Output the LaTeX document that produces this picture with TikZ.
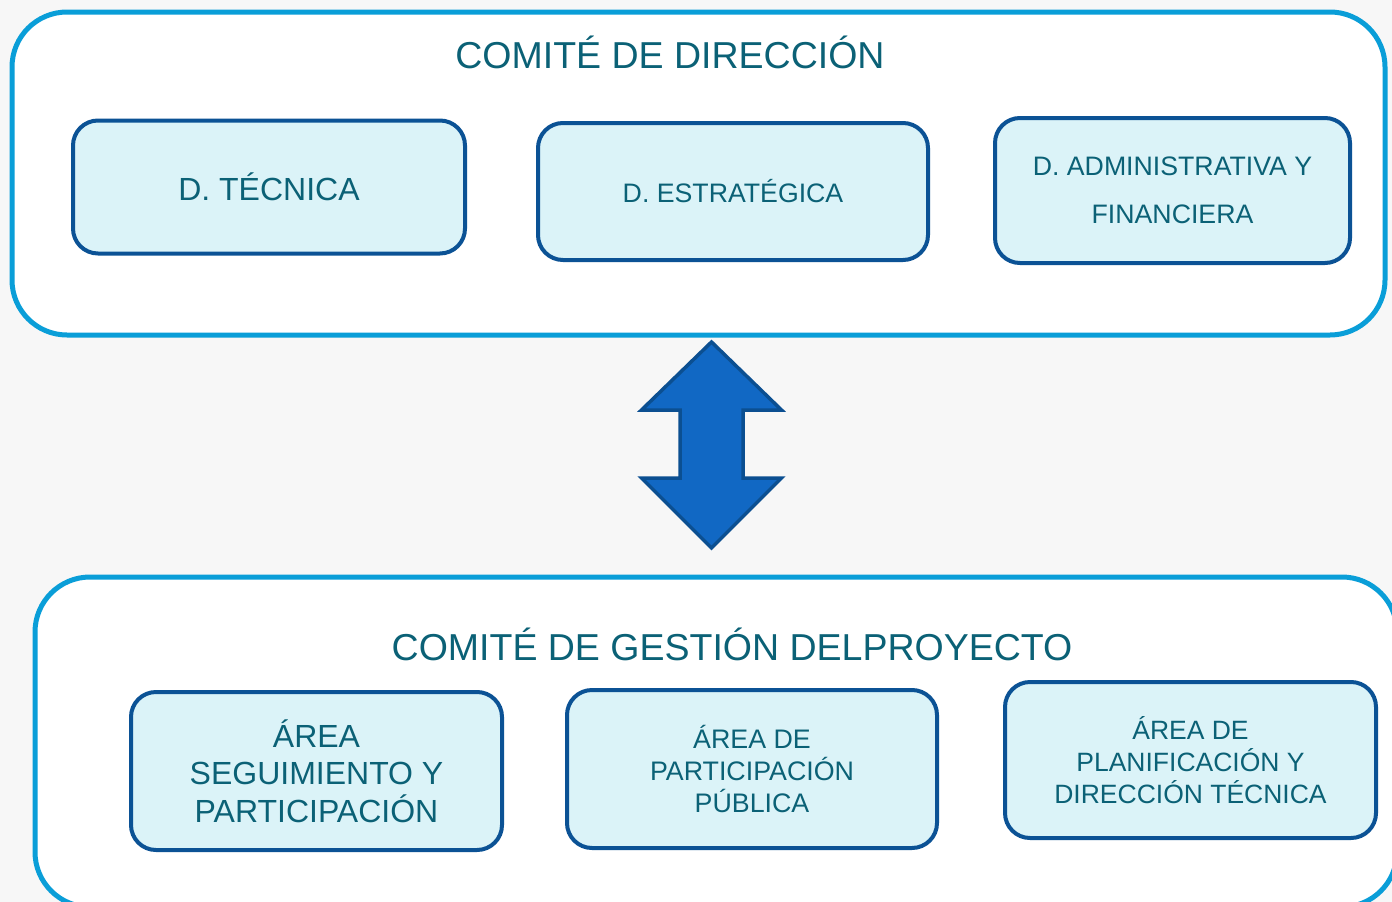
\documentclass[tikz,border=0pt]{standalone}
\usepackage{fontspec}
\setmainfont{Liberation Sans}
\usetikzlibrary{positioning}

\definecolor{outerblue}{HTML}{0A9ED8}
\definecolor{boxline}{HTML}{0B5295}
\definecolor{boxfill}{HTML}{DBF3F8}
\definecolor{textteal}{HTML}{0B6176}
\definecolor{arrowfill}{HTML}{1168C4}
\definecolor{arrowline}{HTML}{0B4F91}
\definecolor{paper}{HTML}{F7F7F7}

\begin{document}
\begin{tikzpicture}[x=1pt, y=-1pt,
    committee/.style={draw=outerblue, line width=5pt, rounded corners=55pt, fill=white, inner sep=0pt},
    unit/.style={draw=boxline, line width=4pt, rounded corners=25pt, fill=boxfill, align=center, text=textteal, inner sep=0pt},
    title/.style={text=textteal, font=\fontsize{37.5}{45}\selectfont},
    bigarrow/.style={draw=arrowline, fill=arrowfill, line width=3.5pt, line join=miter}]
      \useasboundingbox (0,0) rectangle (1392,902);
      \fill[paper] (0,0) rectangle (1392,902);
      \clip (0,0) rectangle (1392,902);

      % upper committee
      \node[committee, minimum width=1373pt, minimum height=323pt] (direccion) at (698.5,173.5) {};
      \node[title] (tdireccion) at (670,52) {COMITÉ DE DIRECCIÓN};
      \node[unit, minimum width=392pt, minimum height=133pt, font=\fontsize{32}{38}\selectfont] (tecnica) at (269,187) {D. TÉCNICA};
      \node[unit, minimum width=390pt, minimum height=137pt, font=\fontsize{26.7}{30}\selectfont] (estrategica) at (733,191.5) {D. ESTRATÉGICA};
      \node[unit, minimum width=355pt, minimum height=145pt, font=\fontsize{26.7}{48}\selectfont] (admin) at (1172.5,190.5) {D. ADMINISTRATIVA Y\\FINANCIERA};

      % double arrow
      \draw[bigarrow] (711.5,342) -- (781.5,410) -- (743,410) -- (743,478) -- (781.5,478) -- (711.5,548)
            -- (641.5,478) -- (680,478) -- (680,410) -- (641.5,410) -- cycle;

      % lower committee
      \node[committee, minimum width=1362pt, minimum height=330pt] (gestion) at (716,742) {};
      \node[title] (tgestion) at (732,644) {COMITÉ DE GESTIÓN DELPROYECTO};
      \node[unit, minimum width=371pt, minimum height=158pt, font=\fontsize{32}{37.5}\selectfont] (seguimiento) at (316.5,771) {ÁREA\\SEGUIMIENTO Y\\PARTICIPACIÓN};
      \node[unit, minimum width=370pt, minimum height=158pt, font=\fontsize{26.8}{32}\selectfont] (participacion) at (752,769) {ÁREA DE\\PARTICIPACIÓN\\PÚBLICA};
      \node[unit, minimum width=371pt, minimum height=156pt, font=\fontsize{26.5}{32}\selectfont] (planificacion) at (1190.5,760) {ÁREA DE\\PLANIFICACIÓN Y\\DIRECCIÓN TÉCNICA};
    \end{tikzpicture}
\end{document}
